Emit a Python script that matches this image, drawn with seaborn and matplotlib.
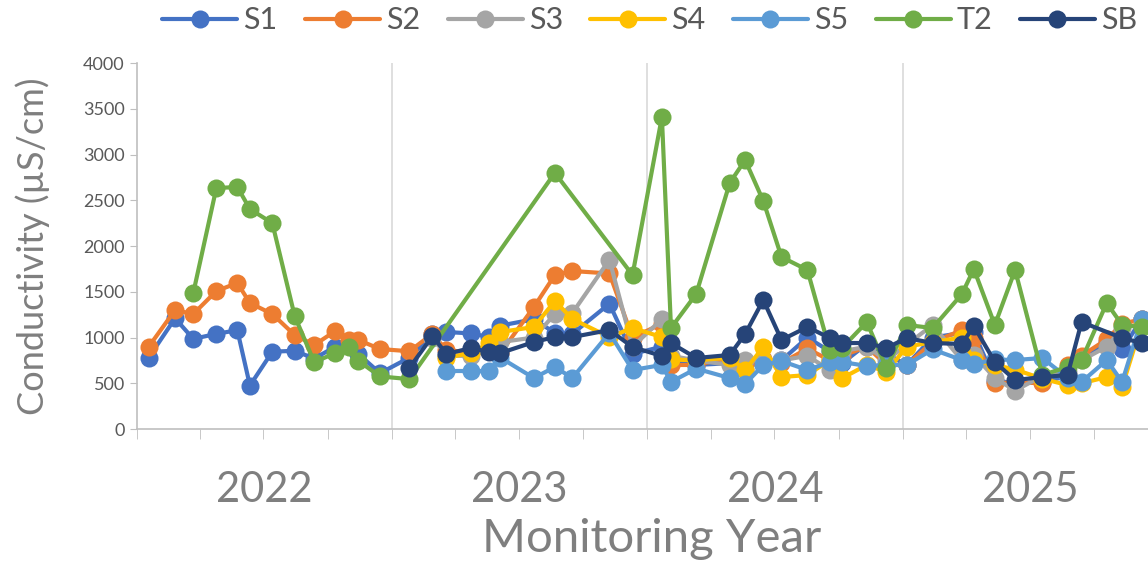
import pandas as pd
import numpy as np
import seaborn as sns
import matplotlib.pyplot as plt
import matplotlib.dates as mdates
from matplotlib.lines import Line2D

# sampling dates
dates = ['2022-01-18', '2022-02-25', '2022-03-23', '2022-04-25', '2022-05-25', '2022-06-12',
         '2022-07-14', '2022-08-15', '2022-09-12', '2022-10-12', '2022-11-01', '2022-11-14',
         '2022-12-15', '2023-01-26', '2023-02-28', '2023-03-20', '2023-04-24', '2023-05-20',
         '2023-06-05', '2023-07-23', '2023-08-22', '2023-09-16', '2023-11-08', '2023-12-11',
         '2024-01-22', '2024-02-04', '2024-03-11', '2024-04-28', '2024-05-20', '2024-06-15',
         '2024-07-11', '2024-08-17', '2024-09-18', '2024-10-06', '2024-11-10', '2024-12-08',
         '2025-01-06', '2025-02-12', '2025-03-26', '2025-04-12', '2025-05-12', '2025-06-10',
         '2025-07-19', '2025-08-24', '2025-09-13', '2025-10-19', '2025-11-10', '2025-12-08']

N = None
s1 = [778, 1210, 985, 1040, 1080, 475, 845, 855, 770, 900, N, 820,
      610, 780, 1040, 1060, 1045, 1005, 1130, 1200, 1050, 1040, 1370, 820,
      900, 760, 700, 720, 730, 740, 750, 1000, 850, 720, 930, 820,
      700, 1000, 1050, 1060, 530, 500, 510, 580, 760, 950, 870, 1200]
s2 = [896, 1300, 1257, 1508, 1596, 1377, 1257, 1027, 918, 1071, 973, 973,
      874, 850, 1040, 860, 840, 850, 830, 1333, 1683, 1727, 1700, 1000,
      1150, 700, 700, 780, 650, 760, 720, 880, 750, 800, 900, 700,
      700, 950, 1080, 1000, 500, 510, 500, 700, 800, 980, 1150, 1200]
s3 = [N, N, N, N, N, N, N, N, N, N, N, N,
      N, N, 1000, 800, 800, 870, 950, 1000, 1257, 1268, 1850, 900,
      1200, 800, 750, 700, 750, 750, 750, 800, 645, 850, 900, 750,
      920, 1137, 750, 809, 557, 420, 580, 620, 750, 900, 1100, 1150]
s4 = [N, N, N, N, N, N, N, N, N, N, N, N,
      N, N, N, 780, 830, 940, 1060, 1115, 1399, 1202, 1005, 1104,
      1005, 760, 750, 780, 645, 896, 568, 590, 754, 557, 700, 623,
      900, 950, 1000, 750, 700, 650, 550, 480, 500, 568, 460, 1150]
s5 = [N, N, N, N, N, N, N, N, N, N, N, N,
      N, N, N, 634, 634, 634, 780, 557, 678, 557, 1050, 645,
      700, 514, 660, 557, 492, 700, 743, 645, 730, 732, 689, 700,
      700, 870, 754, 710, 760, 754, 776, 560, 514, 754, 514, 1200]
t2 = [N, N, 1486, 2634, 2645, 2404, 2251, 1235, 730, 830, 896, 745,
      575, 545, N, N, N, N, N, N, 2800, N, N, 1683,
      3410, 1104, 1475, 2689, 2940, 2492, 1880, 1738, 863, 890, 1169, 667,
      1137, 1104, 1475, 1749, 1137, 1738, 590, 678, 754, 1377, 1137, 1115]
sb = [N, N, N, N, N, N, N, N, N, N, N, N,
      N, 667, 1016, 820, 885, 842, 830, 951, 1005, 1005, 1082, 896,
      798, 940, 776, 809, 1038, 1410, 973, 1115, 995, 940, 940, 885,
      995, 940, 929, 1126, 732, 535, 568, 590, 1169, N, 995, 940]

sites = ['S1', 'S2', 'S3', 'S4', 'S5', 'T2', 'SB']
colors = ['#4472C4', '#ED7D31', '#A5A5A5', '#FFC000', '#5B9BD5', '#70AD47', '#264478']
years = [2022, 2023, 2024, 2025]

wide = pd.DataFrame({'Date': pd.to_datetime(dates), 'S1': s1, 'S2': s2, 'S3': s3,
                     'S4': s4, 'S5': s5, 'T2': t2, 'SB': sb})
df = wide.melt(id_vars='Date', var_name='Site', value_name='Conductivity').dropna()

sns.set_style('white')
plt.rcParams['font.family'] = ['Lato', 'DejaVu Sans']

fig = plt.figure(figsize=(11.48, 5.63), dpi=100)
ax = fig.add_axes([0.119, 0.238, 0.881, 0.65])

palette = dict(zip(sites, colors))
sns.lineplot(data=df, x='Date', y='Conductivity', hue='Site', hue_order=sites,
             palette=palette, marker='o', markersize=13, markeredgewidth=0,
             linewidth=3, estimator=None, sort=False, legend=False, ax=ax)

# axes
ax.set_xlim(pd.Timestamp('2022-01-01'), pd.Timestamp('2025-12-17'))
ax.set_ylim(0, 4000)
ax.set_yticks(range(0, 4001, 500))
ax.tick_params(axis='y', labelsize=13, labelcolor='#595959', length=5,
               color='#BFBFBF', direction='out', left=True)

ax.set_xticks([pd.Timestamp(f'{y}-07-02') for y in years])
ax.set_xticklabels([str(y) for y in years])
ax.xaxis.set_minor_locator(mdates.MonthLocator(bymonth=[1, 4, 7, 10]))
ax.tick_params(axis='x', which='major', length=0, pad=30, labelsize=30, labelcolor='#7F7F7F')
ax.tick_params(axis='x', which='minor', length=7, color='#BFBFBF', direction='out', bottom=True)

for y in years[1:]:
    ax.axvline(pd.Timestamp(f'{y}-01-01'), color='#D9D9D9', lw=1.2, zorder=0)

for side in ['top', 'right']:
    ax.spines[side].set_visible(False)
for side in ['left', 'bottom']:
    ax.spines[side].set_color('#BFBFBF')
    ax.spines[side].set_linewidth(1.2)

ax.set_xlabel('Monitoring Year', fontsize=34, color='#7F7F7F')
ax.xaxis.set_label_coords(0.509, -0.243, transform=ax.transAxes)
ax.xaxis.label.set_va('top')
ax.set_ylabel('Conductivity (µS/cm)', fontsize=26, color='#7F7F7F', labelpad=24)

handles = [Line2D([], [], color=c, lw=3, marker='o', markersize=13, markeredgewidth=0)
           for c in colors]
fig.legend(handles, sites, ncol=7, loc='center', bbox_to_anchor=(0.566, 0.964),
           frameon=False, fontsize=22, labelcolor='#595959', handlelength=2.45,
           handletextpad=0.2, columnspacing=0.9)

fig.savefig('out.png', dpi=100)
